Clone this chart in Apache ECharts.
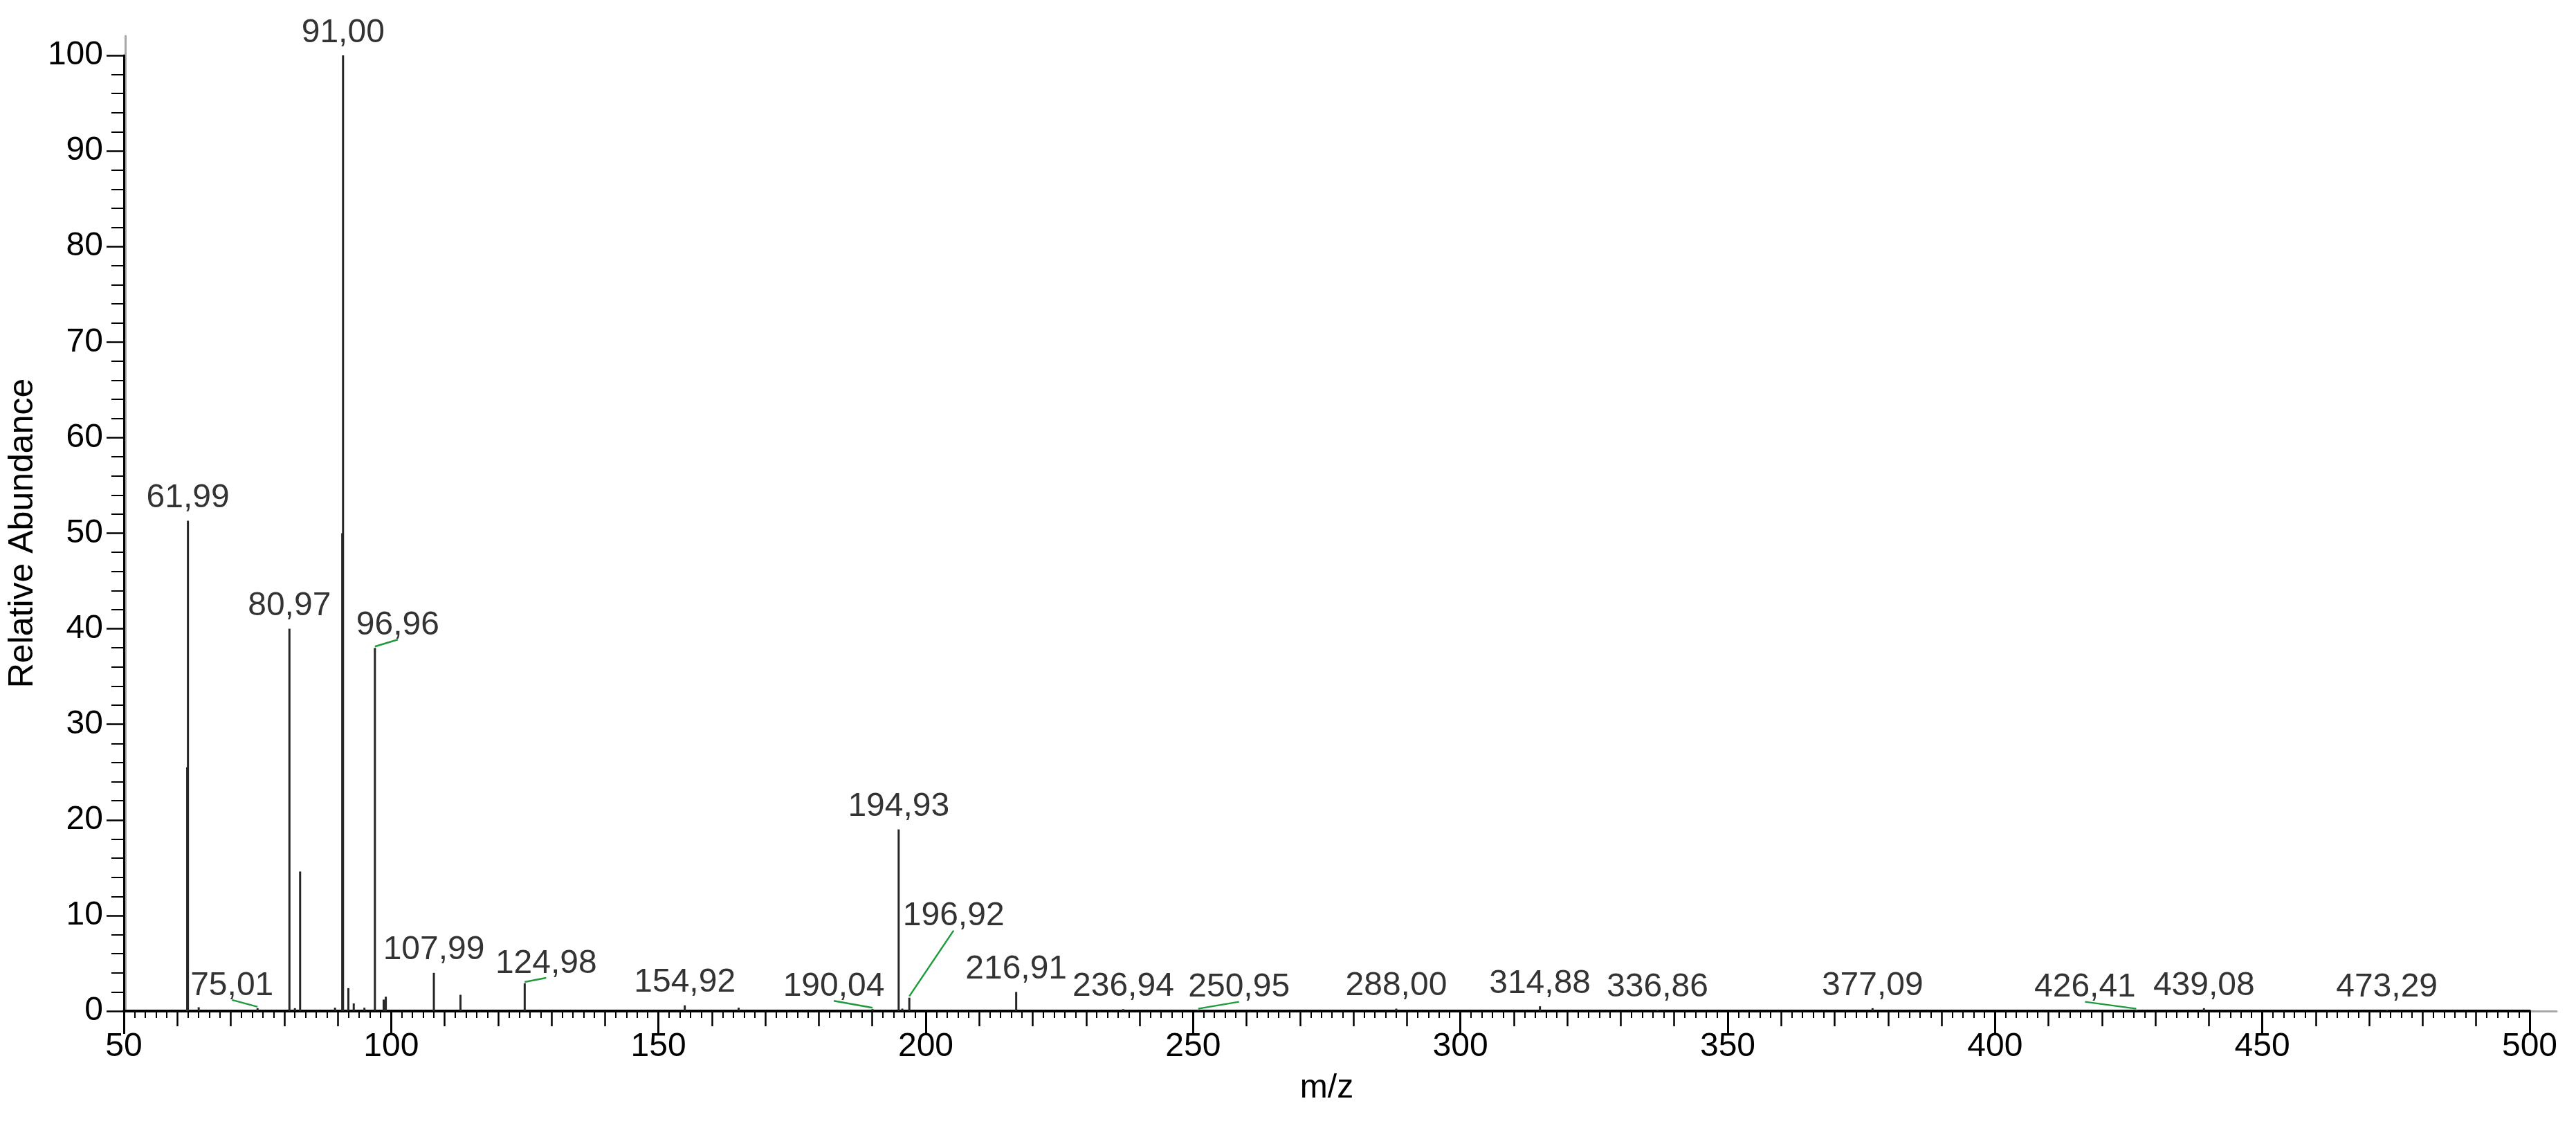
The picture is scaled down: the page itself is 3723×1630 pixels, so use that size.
<!DOCTYPE html>
<html>
<head>
<meta charset="utf-8">
<title>Mass spectrum</title>
<script src="https://cdn.jsdelivr.net/npm/echarts@6/dist/echarts.min.js"></script>
<style>
  html, body { margin: 0; padding: 0; background: #fff; }
  #main { width: 3723px; height: 1630px; }
</style>
</head>
<body>
<div id="main"></div>
<script>
// peaks: m/z and relative abundance (%)
const peakMz = [61.85, 61.99, 64.0, 75.01, 80.97, 82.0, 82.97, 89.5, 90.85, 91.00,
                92.0, 93.0, 95.0, 96.96, 98.6, 99.0, 107.99, 112.97, 124.98, 154.92,
                165.0, 190.04, 194.93, 195.6, 196.92, 216.91, 236.94, 250.95, 288.00, 314.88,
                336.86, 377.09, 426.41, 439.08, 473.29];
const peakAbundance = [25.5, 51.3, 0.4, 0.3, 40.0, 0.3, 14.6, 0.35, 50.0, 100,
                       2.4, 0.8, 0.35, 38.0, 1.2, 1.5, 4.0, 1.7, 2.9, 0.6,
                       0.35, 0.2, 19.0, 0.25, 1.4, 2.0, 0.2, 0.1, 0.25, 0.5,
                       0.15, 0.3, 0.1, 0.3, 0.15];

// peaks that carry an m/z label
const labelMz = [61.99, 75.01, 80.97, 91.00, 96.96, 107.99, 124.98, 154.92, 190.04, 194.93,
                 196.92, 216.91, 236.94, 250.95, 288.00, 314.88, 336.86, 377.09, 426.41, 439.08, 473.29];

// labels pushed aside by the software, with a green leader line (px shift)
const leaderShift = {
    '75.01': [-37, 0],
    '96.96': [33, 0],
    '124.98': [31, 4],
    '190.04': [-56, 0],
    '196.92': [64, -85],
    '250.95': [59, 0],
    '426.41': [-74, 0]
};

const FONT = "'Liberation Sans', Arial, sans-serif";

const abundanceAt = (mz) => peakAbundance[peakMz.indexOf(mz)];
const peaks = peakMz.map((m, i) => [m, peakAbundance[i]]);
const plainLabels = labelMz.filter(m => !(m.toFixed(2) in leaderShift)).map(m => [m, abundanceAt(m)]);
const leaderLabels = labelMz.filter(m => m.toFixed(2) in leaderShift).map(m => [m, abundanceAt(m)]);

const mzText = (p) => p.value[0].toFixed(2).replace('.', ',');

const labelStyle = {
    show: true,
    position: 'top',
    distance: 8,
    formatter: mzText,
    color: '#000',
    fontFamily: FONT,
    fontSize: 48
};

var myChart = echarts.init(document.getElementById('main'));

let option = {
    animation: false,
    backgroundColor: '#fff',
    grid: [
        { left: 175, right: 67, top: 80, bottom: 169 },
        // grey frame behind the axes
        { left: 181, right: 28, top: 52, bottom: 169 }
    ],
    xAxis: [
        {
            gridIndex: 0, type: 'value', min: 50, max: 500, interval: 10,
            position: 'bottom', z: 3,
            axisLine: { onZero: false, lineStyle: { color: '#000', width: 4 } },
            axisTick: { show: true, length: 22, lineStyle: { color: '#000', width: 2.5 } },
            minorTick: { show: true, splitNumber: 5, length: 10, lineStyle: { color: '#000', width: 2 } },
            axisLabel: { show: false },
            splitLine: { show: false }
        },
        {
            gridIndex: 0, type: 'value', min: 50, max: 500, interval: 50,
            position: 'bottom', z: 3,
            axisLine: { show: false, onZero: false },
            axisTick: { show: true, length: 33, lineStyle: { color: '#000', width: 3 } },
            axisLabel: { color: '#000', fontFamily: FONT, fontSize: 48, margin: 28 },
            splitLine: { show: false },
            name: 'm/z',
            nameLocation: 'middle',
            nameGap: 88,
            nameTextStyle: { color: '#000', fontFamily: FONT, fontSize: 48 }
        },
        {
            gridIndex: 1, type: 'value', min: 0, max: 1, z: 0,
            axisLine: { onZero: false, lineStyle: { color: '#a8a8a8', width: 3 } },
            axisTick: { show: false },
            axisLabel: { show: false },
            splitLine: { show: false }
        }
    ],
    yAxis: [
        {
            gridIndex: 0, type: 'value', min: 0, max: 100, interval: 10, z: 3,
            axisLine: { show: true, onZero: false, lineStyle: { color: '#000', width: 3 } },
            axisTick: { show: true, length: 25, lineStyle: { color: '#000', width: 2.5 } },
            minorTick: { show: true, splitNumber: 5, length: 18, lineStyle: { color: '#000', width: 2 } },
            axisLabel: { color: '#000', fontFamily: FONT, fontSize: 48, margin: 30 },
            splitLine: { show: false },
            name: 'Relative Abundance',
            nameLocation: 'middle',
            nameGap: 97,
            nameTextStyle: { color: '#000', fontFamily: FONT, fontSize: 50 }
        },
        {
            gridIndex: 1, type: 'value', min: 0, max: 1, z: 0,
            axisLine: { show: true, onZero: false, lineStyle: { color: '#a8a8a8', width: 3 } },
            axisTick: { show: false },
            axisLabel: { show: false },
            splitLine: { show: false }
        }
    ],
    series: [
        {
            name: 'peaks',
            type: 'bar',
            xAxisIndex: 0,
            yAxisIndex: 0,
            data: peaks,
            barWidth: 3,
            itemStyle: { color: '#262626' },
            z: 4
        },
        {
            name: 'labels',
            type: 'scatter',
            xAxisIndex: 0,
            yAxisIndex: 0,
            data: plainLabels,
            symbolSize: 1,
            itemStyle: { color: 'rgba(0,0,0,0)' },
            label: labelStyle,
            z: 5
        },
        {
            name: 'shifted labels',
            type: 'scatter',
            xAxisIndex: 0,
            yAxisIndex: 0,
            data: leaderLabels,
            symbolSize: 1,
            itemStyle: { color: 'rgba(0,0,0,0)' },
            label: labelStyle,
            labelLayout: function (params) {
                const s = leaderShift[leaderLabels[params.dataIndex][0].toFixed(2)];
                return { dx: s[0], dy: s[1] };
            },
            z: 5
        },
        {
            // green leader from the peak top to just under its shifted label
            name: 'leaders',
            type: 'custom',
            xAxisIndex: 0,
            yAxisIndex: 0,
            data: leaderLabels,
            renderItem: function (params, api) {
                const p = api.coord([api.value(0), api.value(1)]);
                const s = leaderShift[api.value(0).toFixed(2)];
                return {
                    type: 'line',
                    shape: { x1: p[0], y1: p[1] - 2, x2: p[0] + s[0], y2: p[1] - 12 + s[1] },
                    style: { stroke: '#1e9b3c', lineWidth: 2.5 }
                };
            },
            z: 6
        }
    ]
};

myChart.setOption(option);
</script>
</body>
</html>
